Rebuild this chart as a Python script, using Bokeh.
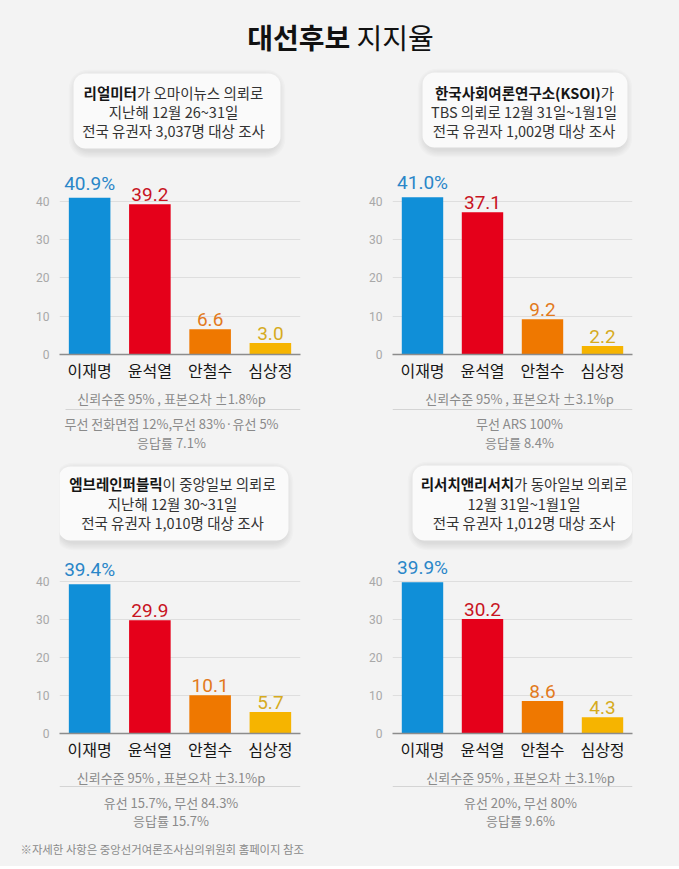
from bokeh.plotting import figure
from bokeh.models import Range1d, FactorRange, FixedTicker, BoxAnnotation, ColumnDataSource
from bokeh.layouts import column, row
from bokeh.core.properties import value
from bokeh.embed import file_html
from bokeh.resources import INLINE

# ---------------- data ----------------
candidates = ["이재명", "윤석열", "안철수", "심상정"]
realmeter = [40.9, 39.2, 6.6, 3.0]
ksoi = [41.0, 37.1, 9.2, 2.2]
embrain = [39.4, 29.9, 10.1, 5.7]
research_research = [39.9, 30.2, 8.6, 4.3]
y_ticks = [0, 10, 20, 30, 40]

title_bold = "대선후보"
title_rest = "지지율"

orgs = ["리얼미터", "한국사회여론연구소(KSOI)", "엠브레인퍼블릭", "리서치앤리서치"]
org_rest = ["가 오마이뉴스 의뢰로", "가", "이 중앙일보 의뢰로", "가 동아일보 의뢰로"]
header_line2 = ["지난해 12월 26~31일", "TBS 의뢰로 12월 31일~1월1일", "지난해 12월 30~31일", "12월 31일~1월1일"]
header_line3 = ["전국 유권자 3,037명 대상 조사", "전국 유권자 1,002명 대상 조사",
                "전국 유권자 1,010명 대상 조사", "전국 유권자 1,012명 대상 조사"]
notes_1 = ["신뢰수준 95% , 표본오차 ±1.8%p", "신뢰수준 95% , 표본오차 ±3.1%p",
           "신뢰수준 95% , 표본오차 ±3.1%p", "신뢰수준 95% , 표본오차 ±3.1%p"]
notes_2 = ["무선 전화면접 12%,무선 83%·유선 5%", "무선 ARS 100%", "유선 15.7%, 무선 84.3%", "유선 20%, 무선 80%"]
notes_3 = ["응답률 7.1%", "응답률 8.4%", "응답률 15.7%", "응답률 9.6%"]
source_note = "※자세한 사항은 중앙선거여론조사심의위원회 홈페이지 참조"

polls = [realmeter, ksoi, embrain, research_research]

# ---------------- style ----------------
BG = "#f3f3f3"
KR = "Noto Sans CJK KR"
bar_colors = ["#108fd8", "#e5001a", "#ef7800", "#f6b400"]
label_colors = ["#2a86c8", "#c8141f", "#e27a1c", "#d6ab1e"]


def em_width(s):
    w = 0.0
    for ch in s:
        o = ord(ch)
        if 0xAC00 <= o <= 0xD7A3 or ch == "※":
            w += 0.92
        elif ch == " ":
            w += 0.224
        elif ch.isdigit():
            w += 0.555
        elif ch in ".,":
            w += 0.26
        elif ch in "()":
            w += 0.33
        elif ch == "%":
            w += 0.85
        elif ch.isupper():
            w += 0.64
        else:
            w += 0.55
    return w


def blank_fig(W, H, mbl=0, mbr=0):
    # data units == pixels of this figure (frame may be narrowed to align with the chart below)
    p = figure(width=W, height=H, x_range=Range1d(mbl, W - mbr), y_range=Range1d(0, H),
               x_axis_type=None, y_axis_type=None, toolbar_location=None,
               output_backend="svg", min_border=0,
               min_border_left=mbl, min_border_right=mbr,
               min_border_top=0, min_border_bottom=0,
               outline_line_color=None,
               background_fill_color=BG, border_fill_color=BG)
    return p


def header_fig(i, W, H, top_page, left_page, mbl, mbr, box, center, line_ys, fs=14.5):
    p = blank_fig(W, H, mbl, mbr)
    fx = lambda x: x - left_page
    fy = lambda y: H - (y - top_page)
    l, r, t, b = box
    # soft shadow
    for k in range(1, 7):
        e = k * 1.3
        p.add_layout(BoxAnnotation(left=fx(l) - e + 3, right=fx(r) + e - 3,
                                   top=fy(t + 4 - e), bottom=fy(b + 2 + e),
                                   fill_color="#000000", fill_alpha=0.014,
                                   line_color=None, border_radius=int(12 + e),
                                   level="underlay"))
    p.add_layout(BoxAnnotation(left=fx(l), right=fx(r), top=fy(t), bottom=fy(b),
                               fill_color="#fafafa", fill_alpha=1.0,
                               line_color=None, border_radius=12, level="underlay"))
    # line 1, bold organisation + normal rest
    wb = em_width(orgs[i]) * fs
    wr = em_width(org_rest[i]) * fs
    split = center - (wb + wr) / 2 + wb
    p.text(x=[fx(split)], y=[fy(line_ys[0])], text=[orgs[i]], text_align="right",
           text_baseline="middle", text_font=value(KR), text_font_size=f"{fs}px",
           text_font_style="bold", text_color="#151515")
    p.text(x=[fx(split)], y=[fy(line_ys[0])], text=[org_rest[i]], text_align="left",
           text_baseline="middle", text_font=value(KR), text_font_size=f"{fs}px",
           text_color="#333333")
    p.text(x=[fx(center), fx(center)], y=[fy(line_ys[1]), fy(line_ys[2])],
           text=[header_line2[i], header_line3[i]], text_align="center",
           text_baseline="middle", text_font=value(KR), text_font_size=f"{fs}px",
           text_color="#333333")
    return p


def bar_fig(i, W, H, mb_left, mb_right, mb_top, mb_bottom, y_end):
    vals = polls[i]
    labels = [f"{v:.1f}" + ("%" if j == 0 else "") for j, v in enumerate(vals)]
    p = figure(width=W, height=H, x_range=FactorRange(*candidates), y_range=Range1d(0, y_end),
               toolbar_location=None, output_backend="svg",
               min_border_left=mb_left, min_border_right=mb_right,
               min_border_top=mb_top, min_border_bottom=mb_bottom,
               outline_line_color=None, background_fill_color=BG, border_fill_color=BG)
    src = ColumnDataSource(dict(x=candidates, top=vals, bar=bar_colors, lab=labels, lc=label_colors))
    p.vbar(x="x", top="top", width=0.69, color="bar", line_color=None, source=src)
    p.text(x="x", y="top", text="lab", text_color="lc", text_align="center",
           text_baseline="bottom", y_offset=-3, text_font=value("Roboto"),
           text_font_size="19px", source=src)
    t = FixedTicker(ticks=y_ticks)
    p.yaxis.ticker = t
    p.ygrid.ticker = t
    p.ygrid.grid_line_color = "#dedede"
    p.xgrid.grid_line_color = None
    p.yaxis.axis_line_color = None
    p.yaxis.major_tick_line_color = None
    p.yaxis.minor_tick_line_color = None
    p.yaxis.major_label_text_color = "#a8a8a8"
    p.yaxis.major_label_text_font = "Roboto"
    p.yaxis.major_label_text_font_size = "12px"
    p.yaxis.major_label_standoff = 4
    p.xaxis.axis_line_color = "#8c8c8c"
    p.xaxis.axis_line_width = 1.5
    p.xaxis.major_tick_line_color = None
    p.xaxis.major_label_text_font = KR
    p.xaxis.major_label_text_font_size = "16px"
    p.xaxis.major_label_text_color = "#161616"
    p.xaxis.major_label_standoff = -3
    return p


def foot_fig(i, W, H, top_page, left_page, mbl, mbr, center, line_ys, sep, sep_y):
    p = blank_fig(W, H, mbl, mbr)
    fx = lambda x: x - left_page
    fy = lambda y: H - (y - top_page)
    p.segment(x0=[fx(sep[0])], x1=[fx(sep[1])], y0=[fy(sep_y)], y1=[fy(sep_y)],
              line_color="#d4d4d4", line_width=1)
    p.text(x=[fx(center)] * 3, y=[fy(y) for y in line_ys],
           text=[notes_1[i], notes_2[i], notes_3[i]], text_align="center",
           text_baseline="middle", text_font=value(KR), text_font_size="13px",
           text_color="#8a8a8a")
    return p


# ---------------- title ----------------
TW, TH = 679, 60
title = blank_fig(TW, TH)
tfs = 28
tw_b = em_width(title_bold) * tfs
tw_r = em_width(title_rest) * tfs
tstart = 340 - (tw_b + tw_r + 0.224 * tfs) / 2
title.text(x=[tstart + tw_b], y=[TH - 36], text=[title_bold], text_align="right",
           text_baseline="middle", text_font=value(KR), text_font_size=f"{tfs}px",
           text_font_style="bold", text_color="#111111")
title.text(x=[tstart + tw_b + 0.224 * tfs], y=[TH - 36], text=[title_rest],
           text_align="left", text_baseline="middle", text_font=value(KR),
           text_font_size=f"{tfs}px", text_color="#111111")

# ---------------- panels ----------------
LW, RW = 340, 339
LL, RL = 0, 340
L_MBL, L_MBR = 59, 40      # frame 59..300
R_MBL, R_MBR = 52, 47      # frame 392..632

h1 = header_fig(0, LW, 100, 60, LL, L_MBL, L_MBR, (73, 280, 73, 148), 173, (92, 111, 130))
h2 = header_fig(1, RW, 100, 60, RL, R_MBL, R_MBR, (422, 627, 72, 147), 523.5, (92, 111, 130))
b1 = bar_fig(0, LW, 230, L_MBL, L_MBR, 10, 36, 184 / 3.8325)
b2 = bar_fig(1, RW, 230, R_MBL, R_MBR, 10, 36, 184 / 3.8325)
f1 = foot_fig(0, LW, 65, 390, LL, L_MBL, L_MBR, 171, (398, 423, 442), (65, 300), 409)
f2 = foot_fig(1, RW, 65, 390, RL, R_MBL, R_MBR, 519, (398, 423, 442), (392, 632), 409)

h3 = header_fig(2, LW, 98, 455, LL, L_MBL, L_MBR, (58, 288, 466, 540), 172, (483, 502.5, 522))
h4 = header_fig(3, RW, 98, 455, RL, R_MBL, R_MBR, (412, 632, 465, 540), 523.5, (483, 502.5, 522))
b3 = bar_fig(2, LW, 216, L_MBL, L_MBR, 3, 36, 177 / 3.79)
b4 = bar_fig(3, RW, 216, R_MBL, R_MBR, 3, 36, 177 / 3.79)
f3 = foot_fig(2, LW, 63, 769, LL, L_MBL, L_MBR, 170.5, (777, 802, 820), (59, 300), 786)
f4 = foot_fig(3, RW, 63, 769, RL, R_MBL, R_MBR, 520, (777, 802, 820), (392, 632), 786)

# ---------------- source note ----------------
SH = 34
src_fig = blank_fig(TW, SH)
src_fig.text(x=[20], y=[SH - (848 - 832)], text=[source_note], text_align="left",
             text_baseline="middle", text_font=value(KR), text_font_size="11.4px",
             text_color="#8a8a8a")

bgs = {"background-color": BG}
layout = column(
    title,
    row(column(h1, b1, f1, styles=bgs), column(h2, b2, f2, styles=bgs), styles=bgs),
    row(column(h3, b3, f3, styles=bgs), column(h4, b4, f4, styles=bgs), styles=bgs),
    src_fig,
    styles=bgs,
)

open("out.html", "w").write(file_html(layout, INLINE))
